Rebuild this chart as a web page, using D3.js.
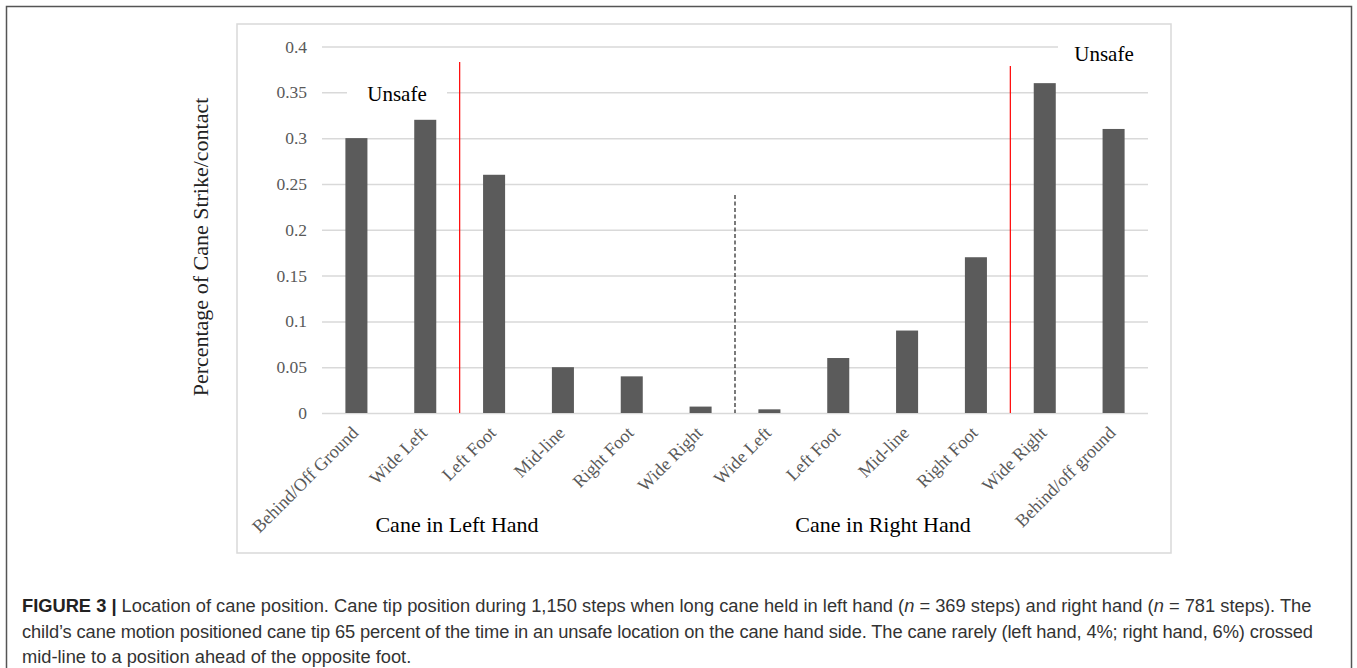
<!DOCTYPE html>
<html>
<head>
<meta charset="utf-8">
<script src="https://cdn.jsdelivr.net/npm/d3@7"></script>
<style>
  body { margin: 0; background: #fff; }
  svg { display: block; }
</style>
</head>
<body>
<svg id="chart"></svg>
<script>
// positions along the x axis, left hand then right hand
const categories = ['Behind/Off Ground', 'Wide Left', 'Left Foot', 'Mid-line', 'Right Foot', 'Wide Right',
                    'Wide Left', 'Left Foot', 'Mid-line', 'Right Foot', 'Wide Right', 'Behind/off ground'];
const values = [0.30, 0.32, 0.26, 0.05, 0.04, 0.007, 0.004, 0.06, 0.09, 0.17, 0.36, 0.31];
const yTicks = [0, 0.05, 0.1, 0.15, 0.2, 0.25, 0.3, 0.35, 0.4];
const yTickLabels = ['0', '0.05', '0.1', '0.15', '0.2', '0.25', '0.3', '0.35', '0.4'];
const groups = ['Cane in Left Hand', 'Cane in Right Hand'];
// boundaries drawn between categories (index of the category after the line)
const unsafeLines = [2, 10];
const handSplit = 6;

const W = 1357, H = 668;
const serif = '"Liberation Serif", "Times New Roman", serif';

const svg = d3.select('#chart')
    .attr('width', W)
    .attr('height', H);

// outer figure frame (bottom runs off the page)
svg.append('rect')
    .attr('x', 6.5).attr('y', 6.5)
    .attr('width', 1345).attr('height', 720)
    .attr('fill', 'none')
    .attr('stroke', '#555')
    .attr('stroke-width', 1.5);

// chart area box
svg.append('rect')
    .attr('x', 237).attr('y', 24)
    .attr('width', 934).attr('height', 529)
    .attr('fill', '#fff')
    .attr('stroke', '#d9d9d9')
    .attr('stroke-width', 1.5);

const x = d3.scaleBand()
    .domain(d3.range(categories.length))
    .range([322, 1148])
    .paddingInner(0.68)
    .paddingOuter(0.34);

const y = d3.scaleLinear()
    .domain([0, 0.4])
    .range([413, 46.5]);

// gridlines + tick labels
const yAxis = d3.axisLeft(y)
    .tickValues(yTicks)
    .tickSize(-(1148 - 322))
    .tickPadding(15)
    .tickFormat((d, i) => yTickLabels[i]);

const gy = svg.append('g')
    .attr('transform', 'translate(322,0)')
    .call(yAxis);
gy.select('.domain').remove();
gy.selectAll('.tick line')
    .attr('stroke', '#d9d9d9')
    .attr('stroke-width', 1.5);
gy.selectAll('.tick text')
    .attr('fill', '#595959')
    .style('font-family', serif)
    .style('font-size', '17.5px');

// bars
svg.selectAll('.bar')
    .data(values)
    .enter()
    .append('rect')
    .classed('bar', true)
    .attr('x', (d, i) => x(i))
    .attr('y', d => y(d))
    .attr('width', x.bandwidth())
    .attr('height', d => y(0) - y(d))
    .attr('fill', '#5b5b5b');

// category labels, rotated
const step = x.step();
svg.selectAll('.cat')
    .data(categories)
    .enter()
    .append('text')
    .classed('cat', true)
    .attr('transform', (d, i) => `translate(${x(i) + x.bandwidth() / 2 + 3},${y(0) + 21}) rotate(-45)`)
    .attr('text-anchor', 'end')
    .attr('fill', '#595959')
    .style('font-family', serif)
    .style('font-size', '18px')
    .text(d => d);

// red "unsafe" boundaries
const edge = i => x(i) - (step - x.bandwidth()) / 2;
svg.selectAll('.unsafe')
    .data(unsafeLines)
    .enter()
    .append('line')
    .attr('x1', d => edge(d)).attr('x2', d => edge(d))
    .attr('y1', (d, i) => i === 0 ? 62 : 66)
    .attr('y2', y(0))
    .attr('stroke', '#ff0000')
    .attr('stroke-width', 1.2);

// dashed line between the two hands
svg.append('line')
    .attr('x1', edge(handSplit)).attr('x2', edge(handSplit))
    .attr('y1', 195).attr('y2', y(0))
    .attr('stroke', '#222')
    .attr('stroke-width', 1.2)
    .attr('stroke-dasharray', '4,2.5');

// "Unsafe" labels with white backing over the gridlines
const unsafeLabels = [{ cx: 397, cy: 94, gapW: 100 }, { cx: 1104, cy: 54, gapW: 92 }];
unsafeLabels.forEach(u => {
    svg.append('rect')
        .attr('x', u.cx - u.gapW / 2).attr('y', u.cy - 14)
        .attr('width', u.gapW).attr('height', 28)
        .attr('fill', '#fff');
    svg.append('text')
        .attr('x', u.cx).attr('y', u.cy + 7)
        .attr('text-anchor', 'middle')
        .attr('fill', '#000')
        .style('font-family', serif)
        .style('font-size', '21px')
        .text('Unsafe');
});

// y axis title
svg.append('text')
    .attr('transform', 'translate(208,247) rotate(-90)')
    .attr('text-anchor', 'middle')
    .attr('fill', '#222')
    .style('font-family', serif)
    .style('font-size', '22px')
    .text('Percentage of Cane Strike/contact');

// hand group labels
const groupX = [457, 883];
svg.selectAll('.grp')
    .data(groups)
    .enter()
    .append('text')
    .attr('x', (d, i) => groupX[i])
    .attr('y', 532)
    .attr('text-anchor', 'middle')
    .attr('fill', '#000')
    .style('font-family', serif)
    .style('font-size', '22px')
    .text(d => d);

// caption
const sans = '"Liberation Sans", Arial, Helvetica, sans-serif';
const cap = svg.append('g')
    .attr('fill', '#333')
    .style('font-family', sans)
    .style('font-size', '18.3px');

const l1 = cap.append('text').attr('x', 22).attr('y', 612);
l1.append('tspan').attr('font-weight', 'bold').attr('fill', '#222').text('FIGURE 3 |');
l1.append('tspan').text(' Location of cane position. Cane tip position during 1,150 steps when long cane held in left hand (');
l1.append('tspan').attr('font-style', 'italic').text('n');
l1.append('tspan').text(' = 369 steps) and right hand (');
l1.append('tspan').attr('font-style', 'italic').text('n');
l1.append('tspan').text(' = 781 steps). The');

cap.append('text').attr('x', 22).attr('y', 638)
    .attr('textLength', 1291)
    .attr('lengthAdjust', 'spacing')
    .text('child\u2019s cane motion positioned cane tip 65 percent of the time in an unsafe location on the cane hand side. The cane rarely (left hand, 4%; right hand, 6%) crossed');
cap.append('text').attr('x', 22).attr('y', 663)
    .text('mid-line to a position ahead of the opposite foot.');
</script>
</body>
</html>
